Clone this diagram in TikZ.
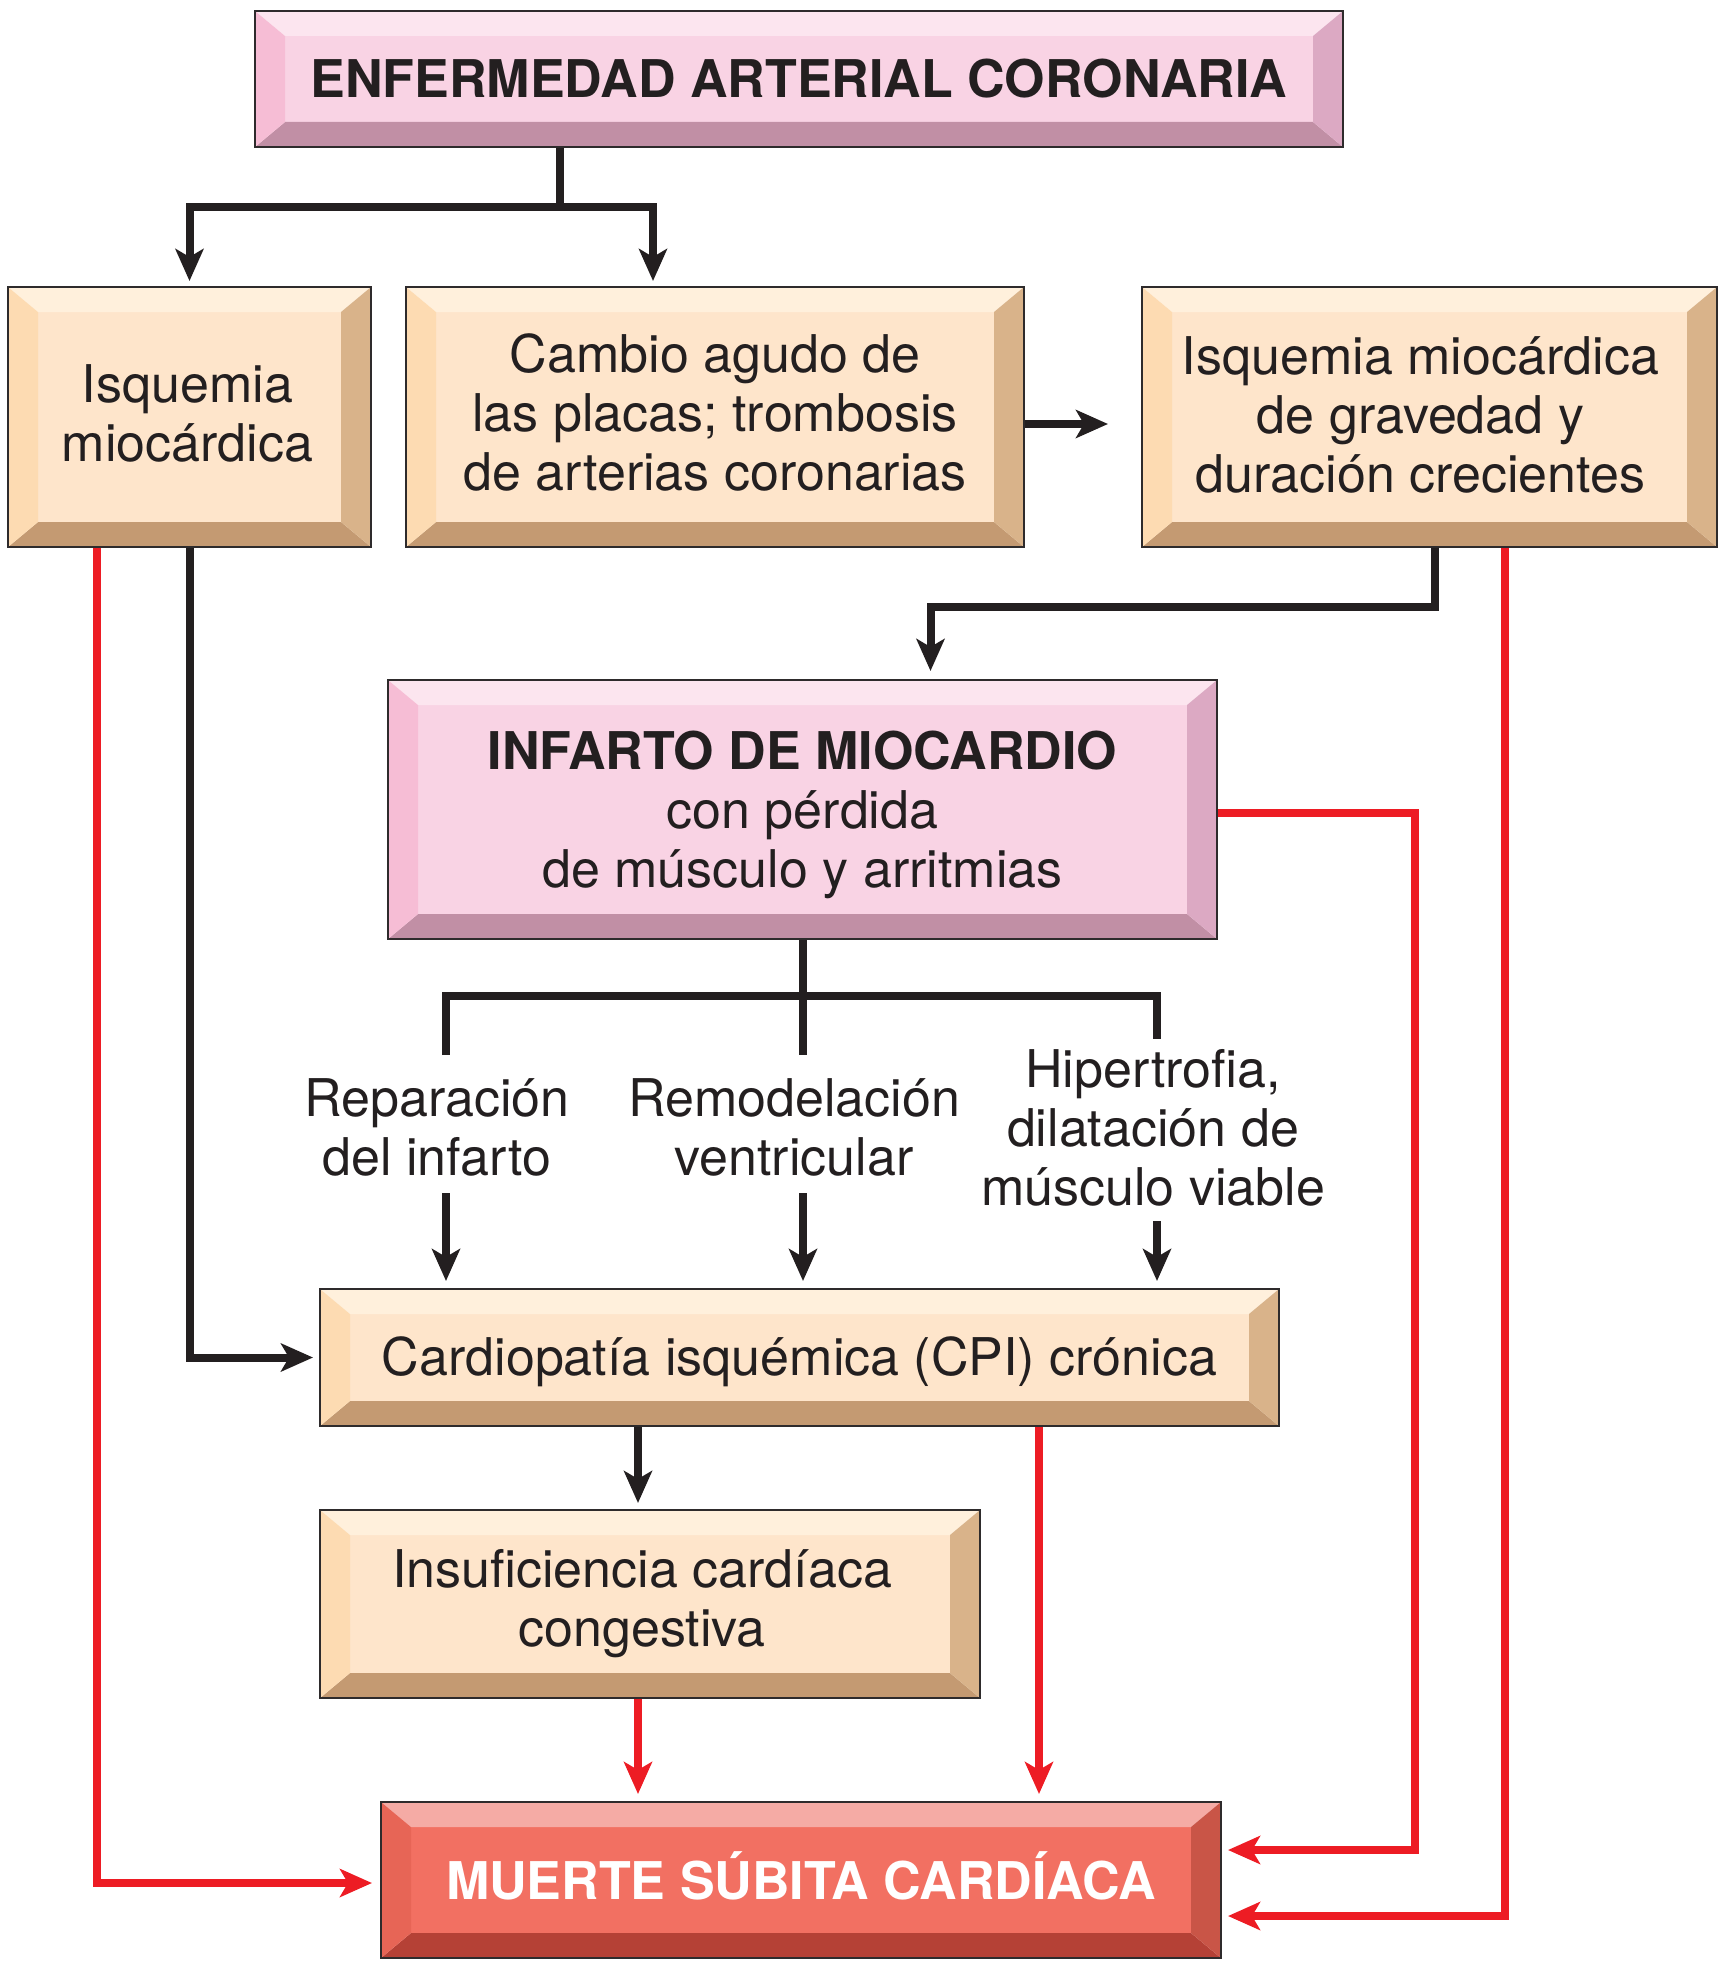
\documentclass[tikz,border=0pt]{standalone}
\usepackage{fontspec}
\setmainfont{TeX Gyre Heros}
\usetikzlibrary{arrows.meta,calc}
\definecolor{pinkF}{HTML}{F9D3E4}
\definecolor{pinkT}{HTML}{FCE5EF}
\definecolor{pinkL}{HTML}{F6BDD5}
\definecolor{pinkB}{HTML}{C18FA5}
\definecolor{pinkR}{HTML}{DCA9C3}
\definecolor{beigeF}{HTML}{FEE5CB}
\definecolor{beigeT}{HTML}{FFF0DC}
\definecolor{beigeL}{HTML}{FDDBB2}
\definecolor{beigeB}{HTML}{C49A72}
\definecolor{beigeR}{HTML}{D9B38A}
\definecolor{redF}{HTML}{F27062}
\definecolor{redT}{HTML}{F5ABA5}
\definecolor{redL}{HTML}{E76556}
\definecolor{redB}{HTML}{B54136}
\definecolor{redR}{HTML}{C95547}
\definecolor{frameC}{HTML}{2E2B2C}
\definecolor{lineK}{HTML}{231F20}
\definecolor{lineR}{HTML}{ED1C24}
\definecolor{txtK}{HTML}{231F20}

\newcommand\bevbox[8]{%
  \fill[#6F] (#2+30,#3+25) rectangle (#4-30,#5-25);
  \fill[#6T] (#2,#3) -- (#4,#3) -- (#4-30,#3+25) -- (#2+30,#3+25) -- cycle;
  \fill[#6B] (#2,#5) -- (#4,#5) -- (#4-30,#5-25) -- (#2+30,#5-25) -- cycle;
  \fill[#6L] (#2,#3) -- (#2+30,#3+25) -- (#2+30,#5-25) -- (#2,#5) -- cycle;
  \fill[#6R] (#4,#3) -- (#4-30,#3+25) -- (#4-30,#5-25) -- (#4,#5) -- cycle;
  \pgfmathsetmacro\bxw{#4-#2}%
  \pgfmathsetmacro\bxh{#5-#3}%
  \node[boxframe, minimum width=\bxw pt, minimum height=\bxh pt] (#1) at ({(#2+#4)/2},{(#3+#5)/2}) {};
  \node[boxtext, #8] (#1t) at (#1.center) {#7};
}

\begin{document}
\begin{tikzpicture}[x=1pt,y=-1pt,
  boxframe/.style={draw=frameC, line width=2pt, inner sep=0pt},
  boxtext/.style={inner sep=0pt, align=center, text=txtK, font=\fontsize{52}{59}\selectfont},
  lbl/.style={align=center, text=txtK, inner sep=0pt, font=\fontsize{52}{59}\selectfont},
  tip/.tip={Stealth[length=32pt,width=28pt,inset=8pt]},
  blk/.style={draw=lineK, line width=8pt},
  rd/.style={draw=lineR, line width=8pt}]
\useasboundingbox (0,0) rectangle (1727,1969);

\bevbox{eac}{255}{11}{1343}{147}{pink}{\bfseries ENFERMEDAD ARTERIAL CORONARIA}{}
\bevbox{isq}{8}{287}{371}{547}{beige}{Isquemia\\miocárdica}{xshift=-2pt,yshift=4pt}
\bevbox{cam}{406}{287}{1024}{547}{beige}{Cambio agudo de\\las placas; trombosis\\de arterias coronarias}{yshift=5pt}
\bevbox{cre}{1142}{287}{1717}{547}{beige}{Isquemia miocárdica\\de gravedad y\\duración crecientes}{xshift=-9pt,yshift=2pt}
\bevbox{inf}{388}{680}{1217}{939}{pink}{{\bfseries INFARTO DE MIOCARDIO}\\con pérdida\\de músculo y arritmias}{yshift=-5pt}
\bevbox{cpi}{320}{1289}{1279}{1426}{beige}{Cardiopatía isquémica (CPI) crónica}{yshift=-4pt}
\bevbox{icc}{320}{1510}{980}{1698}{beige}{Insuficiencia cardíaca\\congestiva}{xshift=-8pt}
\bevbox{mue}{381}{1802}{1221}{1958}{red}{\bfseries MUERTE SÚBITA CARDÍACA}{text=white,yshift=4pt}

% labels
\node[lbl] (l1) at (437,1127) {Reparación\\del infarto};
\node[lbl] (l2) at (794,1127) {Remodelación\\ventricular};
\node[lbl] (l3) at (1153,1128) {Hipertrofia,\\dilatación de\\músculo viable};

% black connectors
\draw[blk,-tip] ([xshift=-239pt]eac.south) -- ++(0,59) coordinate (j1) -| ([yshift=5pt]isq.north);
\draw[blk,-tip] (j1) -| ([xshift=-62pt,yshift=5pt]cam.north);
\draw[blk,-tip] ([yshift=-7pt]cam.east) -- ([xshift=-33pt,yshift=-7pt]cre.west);
\draw[blk,-tip] ([xshift=5pt]cre.south) -- ++(0,59) -| ([xshift=128pt,yshift=8pt]inf.north);
\draw[blk,-tip] (isq.south) |- ([xshift=-6pt]cpi.west);

\coordinate (s1) at (446,1055);
\coordinate (s3) at (1157,1039);
\coordinate (b1) at (446,996);
\coordinate (b3) at (1157,996);
\draw[blk] (inf.south) -- (inf.south |- s1);
\draw[blk] (s1) -- (b1) -- (b3) -- (s3);
\coordinate (a1) at (446,1193);
\coordinate (a2) at (803,1193);
\coordinate (a3) at (1157,1221);
\draw[blk,-tip] (a1) -- ([yshift=7pt]cpi.north -| a1);
\draw[blk,-tip] (a2) -- ([yshift=7pt]cpi.north -| a2);
\draw[blk,-tip] (a3) -- ([yshift=7pt]cpi.north -| a3);
\draw[blk,-tip] ([xshift=-161.5pt]cpi.south) -- ([xshift=-12pt,yshift=6pt]icc.north);

% red connectors
\draw[rd,-tip] ([xshift=-92.5pt]isq.south) |- ([xshift=-8pt,yshift=-3pt]mue.west);
\draw[rd,-tip] ([xshift=75pt]cre.south) |- ([xshift=6pt,yshift=-36pt]mue.east);
\draw[rd,-tip] ([yshift=-3pt]inf.east) -- ++(197,0) |- ([xshift=6pt,yshift=30pt]mue.east);
\draw[rd,-tip] ([xshift=-12pt]icc.south) -- ([xshift=-163pt,yshift=7pt]mue.north);
\draw[rd,-tip] ([xshift=239.5pt]cpi.south) -- ([xshift=238pt,yshift=7pt]mue.north);
\end{tikzpicture}
\end{document}
